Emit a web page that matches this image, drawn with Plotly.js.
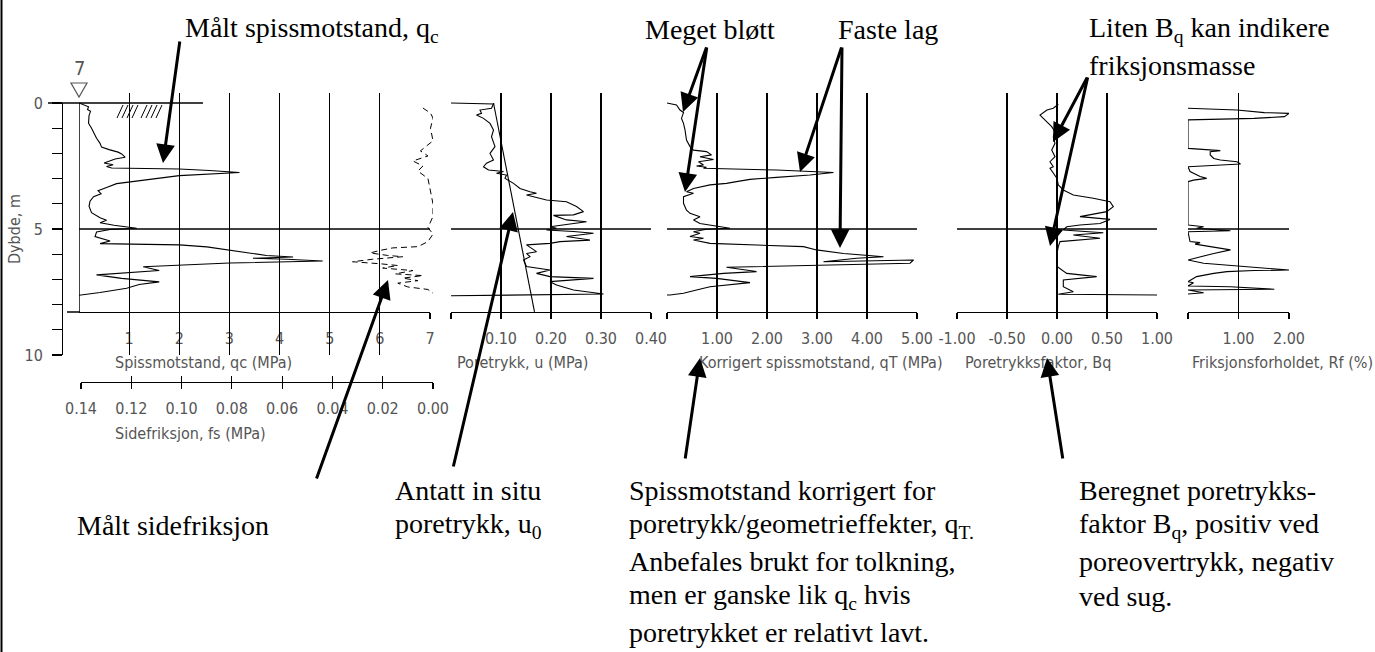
<!DOCTYPE html>
<html>
<head>
<meta charset="utf-8">
<script src="https://cdn.plot.ly/plotly-3.0.1.min.js"></script>
<style>html,body{margin:0;padding:0;background:#fff;}#chart{width:1375px;height:652px;}</style>
</head>
<body>
<div id="chart"></div>
<script>
// ---------- DATA ----------
// Measured cone resistance qc (MPa) vs depth (m)
const qcDepth = [0, 0.15, 0.26, 0.33, 0.5, 0.8, 1.0, 1.2, 1.4, 1.6,
  1.75, 1.85, 1.95, 2.02, 2.15, 2.22, 2.3, 2.38, 2.45, 2.52,
  2.58, 2.62, 2.68, 2.76, 2.88, 3.0, 3.08, 3.2, 3.35, 3.48,
  3.6, 3.72, 3.9, 4.1, 4.35, 4.55, 4.65, 4.75, 4.85, 4.97,
  5.02, 5.12, 5.3, 5.38, 5.48, 5.58, 5.63, 5.71, 5.87, 6.05,
  6.11, 6.16, 6.2, 6.27, 6.35, 6.5, 6.65, 6.74, 6.82, 6.96,
  7.1, 7.2, 7.35, 7.52, 7.62, 7.63];
const qcVal = [0, 0.19, 0.17, 0.23, 0.2, 0.19, 0.25, 0.3, 0.35, 0.42,
  0.45, 0.6, 0.78, 0.85, 0.92, 0.72, 0.6, 0.5, 0.68, 0.55,
  0.65, 2.0, 2.6, 3.2, 2.0, 1.55, 1.28, 0.75, 0.55, 0.38,
  0.44, 0.29, 0.22, 0.2, 0.25, 0.42, 0.55, 0.42, 0.7, 1.15,
  0.62, 0.35, 0.32, 0.45, 0.62, 0.42, 2.0, 2.55, 3.07, 3.74,
  4.27, 3.47, 4.14, 4.86, 3.0, 1.28, 1.6, 0.8, 0.35, 0.85,
  1.6, 1.2, 0.95, 0.42, 0.1, 0];
// Measured sleeve friction fs (MPa)
const fsDepth = [0.2, 0.4, 0.6, 1.0, 1.5, 1.9, 2.1, 2.3, 2.5, 2.7,
  3.0, 3.5, 4.0, 4.5, 4.95, 5.2, 5.5, 5.7, 5.75, 5.85,
  5.95, 6.05, 6.1, 6.2, 6.3, 6.38, 6.45, 6.55, 6.65, 6.78,
  6.85, 6.95, 7.05, 7.15, 7.3, 7.4, 7.55];
const fsVal = [0.004, 0.001, 0.0, 0.001, 0.0, 0.005, 0.002, 0.008, 0.004, 0.006,
  0.002, 0.001, 0.0, 0.0, 0.002, 0.0, 0.002, 0.006, 0.016, 0.021,
  0.025, 0.018, 0.012, 0.024, 0.032, 0.021, 0.014, 0.02, 0.008, 0.015,
  0.004, 0.012, 0.006, 0.014, 0.01, 0.002, 0.0];
// Pore pressure u (MPa)
const uDepth = [0, 0.04, 0.21, 0.28, 0.41, 0.48, 0.61, 0.81, 1.07, 1.34,
  1.73, 2.0, 2.26, 2.39, 2.53, 2.66, 2.72, 2.79, 2.86, 2.99,
  3.19, 3.39, 3.52, 3.58, 3.65, 3.85, 3.92, 4.11, 4.31, 4.44,
  4.46, 4.64, 4.71, 4.84, 4.91, 4.97, 5.04, 5.1, 5.17, 5.3,
  5.44, 5.5, 5.57, 5.63, 5.9, 5.97, 6.1, 6.23, 6.49, 6.63,
  6.76, 6.89, 6.96, 7.09, 7.22, 7.42, 7.58, 7.65];
const uVal = [0, 0.085, 0.081, 0.058, 0.061, 0.051, 0.065, 0.078, 0.085, 0.081,
  0.088, 0.078, 0.085, 0.071, 0.065, 0.075, 0.105, 0.091, 0.111, 0.108,
  0.125, 0.138, 0.158, 0.171, 0.151, 0.191, 0.231, 0.251, 0.265, 0.245,
  0.205, 0.231, 0.271, 0.218, 0.198, 0.211, 0.191, 0.245, 0.285, 0.231,
  0.278, 0.218, 0.198, 0.151, 0.171, 0.151, 0.158, 0.145, 0.151, 0.198,
  0.171, 0.198, 0.285, 0.198, 0.211, 0.245, 0.305, 0];
// Assumed in situ pore pressure u0 (MPa)
const u0Depth = [0, 8.29];
const u0Val = [0.085, 0.167];
// Corrected cone resistance qT (MPa)
const qtDepth = [0, 0.08, 0.28, 0.38, 0.61, 0.81, 1.07, 1.47, 1.73, 1.87,
  1.93, 2.06, 2.13, 2.24, 2.33, 2.46, 2.5, 2.55, 2.59, 2.66,
  2.76, 2.86, 2.95, 3.03, 3.12, 3.19, 3.25, 3.32, 3.39, 3.52,
  3.58, 3.72, 3.98, 4.25, 4.38, 4.51, 4.64, 4.78, 4.87, 4.97,
  5.01, 5.11, 5.17, 5.3, 5.37, 5.44, 5.57, 5.63, 5.7, 5.83,
  5.97, 6.1, 6.16, 6.3, 6.23, 6.36, 6.39, 6.52, 6.69, 6.76,
  6.89, 6.96, 7.13, 7.22, 7.29, 7.42, 7.55, 7.62, 7.62];
const qtVal = [0, 0.19, 0.26, 0.33, 0.29, 0.33, 0.36, 0.39, 0.46, 0.53,
  0.79, 0.89, 0.66, 0.93, 0.63, 0.73, 0.59, 0.79, 0.73, 2.19,
  3.33, 2.86, 2.19, 1.66, 1.39, 1.19, 0.86, 0.66, 0.53, 0.39,
  0.53, 0.33, 0.33, 0.39, 0.46, 0.66, 0.53, 0.66, 0.93, 1.26,
  0.79, 0.53, 0.66, 0.46, 0.73, 0.53, 0.86, 1.66, 2.73, 2.99,
  3.53, 4.33, 3.79, 3.13, 4.93, 4.86, 4.19, 1.19, 1.79, 1.13,
  0.46, 0.99, 1.66, 1.26, 0.86, 0.59, 0.33, 0.06, 0];
// Pore pressure ratio Bq
const bqDepth = [0.05, 0.21, 0.28, 0.48, 0.61, 0.74, 0.94, 1.14, 1.34, 1.6,
  1.87, 2.13, 2.33, 2.53, 2.59, 2.99, 3.25, 3.45, 3.65, 3.78,
  3.92, 4.11, 4.31, 4.51, 4.62, 4.78, 4.84, 4.91, 5.04, 5.15,
  5.24, 5.37, 5.5, 5.7, 5.97, 6.49, 6.76, 6.89, 7.02, 7.29,
  7.49, 7.59, 7.62];
const bqVal = [0.013, -0.037, -0.10, -0.17, -0.137, -0.10, -0.053, -0.02, -0.037, -0.02,
  -0.053, -0.02, -0.07, -0.037, -0.07, 0, 0.013, 0.063, 0.163, 0.363,
  0.53, 0.563, 0.497, 0.23, 0.53, 0.43, 0.23, 0.097, 0.063, 0.463,
  0.163, 0.43, 0.03, 0.013, 0, 0, 0.097, 0.397, 0.063, 0.063,
  0.163, 0.013, 1.0];
// Friction ratio Rf (%)
const rfDepth = [0.21, 0.25, 0.28, 0.38, 0.41, 0.54, 0.61, 0.67, 1.8, 1.89,
  1.93, 2.06, 2.2, 2.26, 2.33, 2.42, 2.5, 2.53, 2.72, 2.92,
  2.99, 3.06, 3.12, 4.84, 4.91, 4.97, 5.07, 5.11, 5.5, 5.54,
  5.6, 5.83, 5.97, 6.23, 6.36, 6.43, 6.52, 6.63, 6.65, 6.69,
  6.76, 6.89, 7.09, 7.13, 7.26, 7.29, 7.39, 7.42, 7.53, 7.58];
const rfVal = [0, 0.71, 0.97, 1.51, 2.0, 1.91, 1.31, 0, 0, 0.64,
  0.44, 0.44, 0.51, 0.64, 0.97, 1.04, 0.31, 0, 0.04, 0.24,
  0.37, 0.11, 0, 0, 0.31, 0.17, 0.84, 0, 0.04, 0.24,
  0.14, 0.84, 0.51, 0, 0.31, 0.71, 1.31, 2.0, 1.31, 0.77,
  0.51, 0.17, 0, 0.11, 0, 0.84, 1.71, 0, 0.31, 0];

// Tick values / labels
const qcTicks = [1, 2, 3, 4, 5, 6, 7];
const qcLabels = ['1', '2', '3', '4', '5', '6', '7'];
const fsTicks = [0, 0.02, 0.04, 0.06, 0.08, 0.10, 0.12, 0.14];
const fsLabels = ['0.00', '0.02', '0.04', '0.06', '0.08', '0.10', '0.12', '0.14'];
const uTicks = [0, 0.1, 0.2, 0.3, 0.4];
const uLabels = ['', '0.10', '0.20', '0.30', '0.40'];
const qtTicks = [0, 1, 2, 3, 4, 5];
const qtLabels = ['', '1.00', '2.00', '3.00', '4.00', '5.00'];
const bqTicks = [-1, -0.5, 0, 0.5, 1];
const bqLabels = ['-1.00', '-0.50', '0.00', '0.50', '1.00'];
const rfTicks = [0, 1, 2];
const rfLabels = ['', '1.00', '2.00'];
const depthTicks = [0, 1, 2, 3, 4, 5, 6, 7, 8, 9, 10];
const depthLabels = ['0', '', '', '', '', '5', '', '', '', '', '10'];

// ---------- LAYOUT HELPERS ----------
const W = 1375, H = 652;
const px = x => x / W;
const py = y => 1 - y / H;
const CAD = 'Liberation Sans Narrow, DejaVu Sans Condensed, Arial Narrow, sans-serif';
const SERIF = 'Liberation Serif, Times New Roman, serif';
const GREY = '#555';
const tickFont = {family: CAD, size: 16, color: GREY};

function panelAxis(l, r, range, tv, tt) {
  return {
    domain: [px(l), px(r)], range: range, anchor: 'y',
    tickmode: 'array', tickvals: tv, ticktext: tt,
    showgrid: true, gridcolor: '#000', gridwidth: 1.2,
    zeroline: false, showline: true, linecolor: '#000', linewidth: 1.2,
    ticks: 'outside', ticklen: 6, tickwidth: 1.2, tickcolor: '#000',
    tickfont: tickFont, ticklabelstandoff: 6, fixedrange: true
  };
}

const lineStyle = {color: '#000', width: 1.1};
const traces = [
  {x: qcVal, y: qcDepth, xaxis: 'x', yaxis: 'y', mode: 'lines', line: lineStyle, cliponaxis: false},
  {x: fsVal, y: fsDepth, xaxis: 'x2', yaxis: 'y', mode: 'lines', line: {color: '#000', width: 1, dash: '6px,4px'}, cliponaxis: false},
  {x: uVal, y: uDepth, xaxis: 'x3', yaxis: 'y', mode: 'lines', line: lineStyle, cliponaxis: false},
  {x: u0Val, y: u0Depth, xaxis: 'x3', yaxis: 'y', mode: 'lines', line: lineStyle, cliponaxis: false},
  {x: qtVal, y: qtDepth, xaxis: 'x4', yaxis: 'y', mode: 'lines', line: lineStyle, cliponaxis: false},
  {x: bqVal, y: bqDepth, xaxis: 'x5', yaxis: 'y', mode: 'lines', line: lineStyle, cliponaxis: false},
  {x: rfVal, y: rfDepth, xaxis: 'x6', yaxis: 'y', mode: 'lines', line: lineStyle, cliponaxis: false},
  {x: [], y: [], xaxis: 'x', yaxis: 'y2', mode: 'lines'},
  {x: [], y: [], xaxis: 'x7', yaxis: 'y', mode: 'lines'}
];

const layout = {
  width: W, height: H, autosize: false,
  margin: {l: 0, r: 0, t: 0, b: 0, pad: 0},
  paper_bgcolor: '#fff', plot_bgcolor: 'rgba(0,0,0,0)',
  showlegend: false,
  yaxis: {domain: [py(312), py(93)], range: [8.294, -0.397], visible: false, fixedrange: true},
  yaxis2: {
    domain: [py(355), py(103)], range: [10, 0], anchor: 'free', position: px(62), side: 'left',
    showline: true, linecolor: '#000', linewidth: 1.2, showgrid: false, zeroline: false,
    tickmode: 'array', tickvals: depthTicks, ticktext: depthLabels,
    ticks: 'outside', ticklen: 10, tickwidth: 1.2, tickcolor: '#000',
    tickfont: tickFont, ticklabelstandoff: 6, fixedrange: true
  },
  xaxis: panelAxis(79, 430, [0, 7], qcTicks, qcLabels),
  xaxis2: {
    domain: [px(81), px(433)], range: [0.14, 0], anchor: 'free', position: py(382),
    showline: true, linecolor: '#000', linewidth: 1.2, showgrid: false, zeroline: false,
    tickmode: 'array', tickvals: fsTicks, ticktext: fsLabels,
    ticks: 'outside', ticklen: 6, tickwidth: 1.2, tickcolor: '#000',
    tickfont: tickFont, ticklabelstandoff: 6, fixedrange: true
  },
  xaxis7: {
    overlaying: 'x2', range: [0.14, 0], anchor: 'free', position: py(382),
    showline: false, showgrid: false, zeroline: false, showticklabels: false,
    tickmode: 'array', tickvals: fsTicks,
    ticks: 'inside', ticklen: 6, tickwidth: 1.2, tickcolor: '#000', fixedrange: true
  },
  xaxis3: panelAxis(451, 651, [0, 0.4], uTicks, uLabels),
  xaxis4: panelAxis(667, 917, [0, 5], qtTicks, qtLabels),
  xaxis5: panelAxis(957, 1157, [-1, 1], bqTicks, bqLabels),
  xaxis6: panelAxis(1188, 1289, [0, 2], rfTicks, rfLabels),
  shapes: [],
  annotations: []
};

const S = layout.shapes;
const blk = {color: '#000', width: 1.5};
// left border of the figure
S.push({type: 'line', xref: 'paper', yref: 'paper', x0: px(1.5), x1: px(1.5), y0: 0, y1: 1, line: {color: '#000', width: 2}});
// qc = 0 line
S.push({type: 'line', xref: 'x', yref: 'y', x0: 0, x1: 0, y0: 0, y1: 8.294, line: blk});
// ground surface line and hatching
S.push({type: 'line', xref: 'paper', yref: 'paper', x0: px(48), x1: px(203), y0: py(103), y1: py(103), line: blk});
[117, 122, 127, 132, 141, 146, 151, 156].forEach(h => {
  S.push({type: 'line', xref: 'paper', yref: 'paper', x0: px(h), x1: px(h + 6), y0: py(118), y1: py(105), line: {color: '#000', width: 1}});
});
// bottom line extension left of panel 1
S.push({type: 'line', xref: 'paper', yref: 'paper', x0: px(67), x1: px(80), y0: py(312), y1: py(312), line: blk});
// 5 m lines in each panel
['x', 'x3', 'x4', 'x5', 'x6'].forEach(a => {
  S.push({type: 'line', xref: a + ' domain', yref: 'y', x0: 0, x1: 1, y0: 5, y1: 5, line: blk});
});
// water level triangle
S.push({type: 'path', xref: 'paper', yref: 'paper',
  path: `M ${px(71)} ${py(83)} L ${px(87)} ${py(83)} L ${px(79)} ${py(97)} Z`, line: {color: GREY, width: 1.2}});

const A = layout.annotations;
function txt(t, x, y, font, extra) {
  A.push(Object.assign({text: t, xref: 'paper', yref: 'paper', x: px(x), y: py(y),
    xanchor: 'left', yanchor: 'middle', showarrow: false, font: font}, extra || {}));
}
const big = {family: SERIF, size: 28, color: '#000'};
const small = {family: CAD, size: 16, color: GREY};
txt('Målt spissmotstand, q<sub>c</sub>', 183, 30, big);
txt('Meget bløtt', 643, 30, big);
txt('Faste lag', 836, 30, big);
txt('Liten B<sub>q</sub> kan indikere', 1087, 30, big);
txt('friksjonsmasse', 1087, 66, big);
txt('Målt sidefriksjon', 75, 525, big);
txt('Antatt in situ', 393, 490, big);
txt('poretrykk, u<sub>0</sub>', 393, 525, big);
txt('Spissmotstand korrigert for', 627, 490, big);
txt('poretrykk/geometrieffekter, q<sub>T.</sub>', 627, 525, big);
txt('Anbefales brukt for tolkning,', 627, 561, big);
txt('men er ganske lik q<sub>c</sub> hvis', 627, 596, big);
txt('poretrykket er relativt lavt.', 627, 632, big);
txt('Beregnet poretrykks-', 1077, 490, big);
txt('faktor B<sub>q</sub>, positiv ved', 1077, 525, big);
txt('poreovertrykk, negativ', 1077, 561, big);
txt('ved sug.', 1077, 596, big);

txt('Spissmotstand, qc (MPa)', 113, 362, small);
txt('Sidefriksjon, fs (MPa)', 113, 433, small);
txt('Poretrykk, u (MPa)', 455, 362, small);
txt('Korrigert spissmotstand, qT (MPa)', 697, 362, small);
txt('Poretrykksfaktor, Bq', 963, 362, small);
txt('Friksjonsforholdet, Rf (%)', 1190, 362, small);
txt('Dybde, m', 14, 229, small, {textangle: -90, xanchor: 'center'});
txt('7', 79, 68, {family: CAD, size: 20, color: GREY}, {xanchor: 'center'});

function arrow(hx, hy, tx, ty) {
  A.push({text: '', xref: 'paper', yref: 'paper', x: px(hx), y: py(hy),
    ax: tx - hx, ay: ty - hy, showarrow: true, arrowhead: 2, arrowsize: 1.25,
    arrowwidth: 3, arrowcolor: '#000', standoff: 0});
}
arrow(163, 163, 180, 40);
arrow(388, 280, 316, 480);
arrow(513, 212, 453, 468);
arrow(683, 112, 707, 46);
arrow(685, 192, 707, 46);
arrow(800, 172, 842, 46);
arrow(840, 248, 842, 46);
arrow(1053, 142, 1088, 76);
arrow(1050, 246, 1088, 76);
arrow(700, 358, 685, 460);
arrow(1047, 358, 1063, 460);

Plotly.newPlot('chart', traces, layout, {staticPlot: true, displayModeBar: false});
</script>
</body>
</html>
